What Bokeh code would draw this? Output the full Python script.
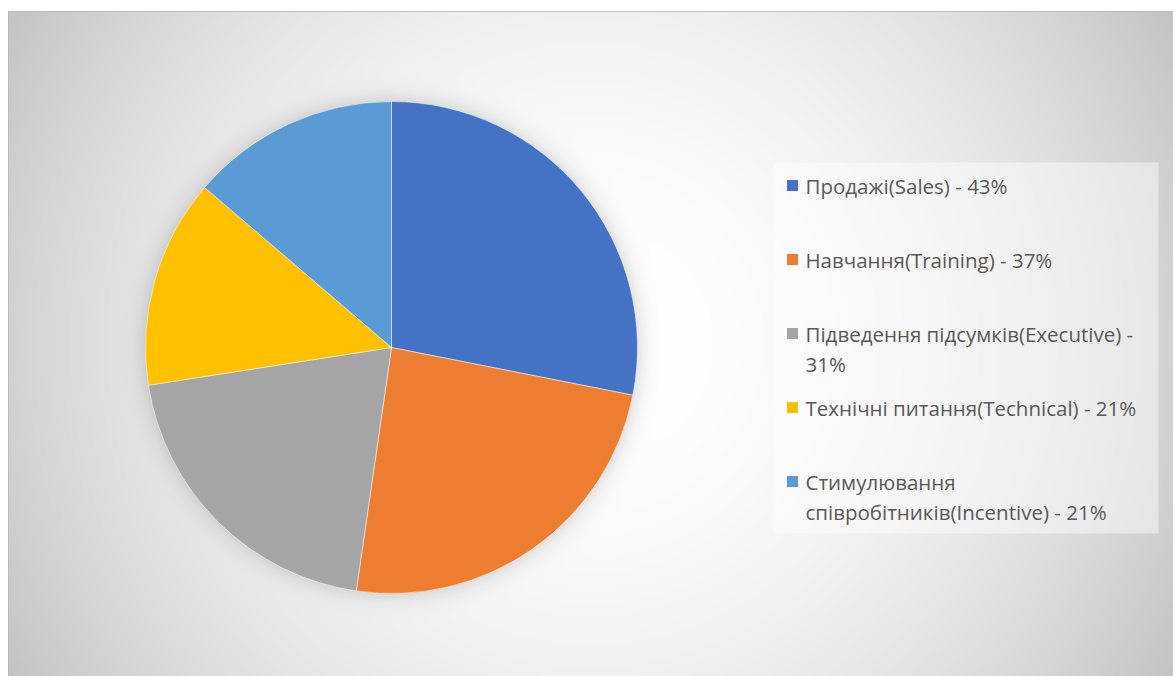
import numpy as np
from bokeh.plotting import figure
from bokeh.models import Range1d, ColumnDataSource
from bokeh.embed import file_html
from bokeh.resources import INLINE
from bokeh.core.properties import value

# ---- data ----
categories = ["Продажі(Sales)", "Навчання(Training)", "Підведення підсумків(Executive)",
              "Технічні питання(Technical)", "Стимулювання співробітників(Incentive)"]
values = [43, 37, 31, 21, 21]
colors = ["#4472C4", "#ED7D31", "#A5A5A5", "#FFC000", "#5B9BD5"]
# legend labels as wrapped in the reference
legend_labels = ["Продажі(Sales) - 43%",
                 "Навчання(Training) - 37%",
                 "Підведення підсумків(Executive) -\n31%",
                 "Технічні питання(Technical) - 21%",
                 "Стимулювання\nспівробітників(Incentive) - 21%"]

# ---- layout (page pixel helpers) ----
X0, X1 = 8, 1173
TOP, BOT = 11, 676
W, H = X1 - X0, BOT - TOP


def Y(py):
    return BOT - py


p = figure(width=X1, height=BOT, x_range=Range1d(X0, X1), y_range=Range1d(0, H),
           output_backend="svg", toolbar_location=None,
           min_border_left=X0, min_border_right=0, min_border_top=TOP, min_border_bottom=0)
p.axis.visible = False
p.grid.visible = False
p.border_fill_color = "white"
p.background_fill_color = "#d9d9d9"
p.outline_line_color = "#b4b4b4"
p.outline_line_width = 1

# ---- background: radial gradient + soft pie shadow ----
CX, CY, R = 391, 347, 246
xs = X0 + np.arange(W) + 0.5
ys = BOT - (np.arange(H) + 0.5)
XX, YY = np.meshgrid(xs, ys)
rr = np.hypot(XX - 590, YY - 343) / 673.0
v = 255 - 60 * np.clip(rr, 0, 1) ** 2
dist = np.hypot(XX - CX, YY - CY) - R
sh = 1.0 / (1.0 + np.exp((dist - 1) / 6.0))
v = v * (1 - 0.18 * sh)
img = np.empty((H, W), dtype=np.uint32)
view = img.view(np.uint8).reshape(H, W, 4)
vv = np.clip(v, 0, 255).astype(np.uint8)
view[..., 0] = vv
view[..., 1] = vv
view[..., 2] = vv
view[..., 3] = 255
p.image_rgba(image=[img], x=X0, y=0, dw=W, dh=H)

# ---- pie ----
total = float(sum(values))
cum = np.cumsum([0] + values) / total
start = np.pi / 2 - 2 * np.pi * cum[:-1]
end = np.pi / 2 - 2 * np.pi * cum[1:]
src = ColumnDataSource(dict(start=start, end=end, color=colors, cat=categories))
p.wedge(x=CX, y=Y(CY), radius=R, start_angle="start", end_angle="end",
        direction="clock", fill_color="color", line_color="white",
        line_width=1, line_alpha=0.5, source=src)

# ---- legend ----
p.quad(left=773, right=1158, top=Y(162), bottom=Y(533),
       fill_color="white", fill_alpha=0.45, line_color=None)

item_y0, item_step, line_step = 185, 74, 30
sq_y = [Y(item_y0 + item_step * i) for i in range(len(legend_labels))]
p.scatter(x=[792] * len(sq_y), y=sq_y, marker="square", size=11,
          fill_color=colors, line_color=None)

tx, ty, tt = [], [], []
for i, lab in enumerate(legend_labels):
    for j, line in enumerate(lab.split("\n")):
        tx.append(805)
        ty.append(Y(item_y0 + item_step * i + line_step * j))
        tt.append(line)
p.text(x=tx, y=ty, text=tt, text_font=value("Open Sans"), text_font_size="20.5px",
       text_color="#595959", text_baseline="middle", text_align="left")

open("out.html", "w").write(file_html(p, INLINE))
